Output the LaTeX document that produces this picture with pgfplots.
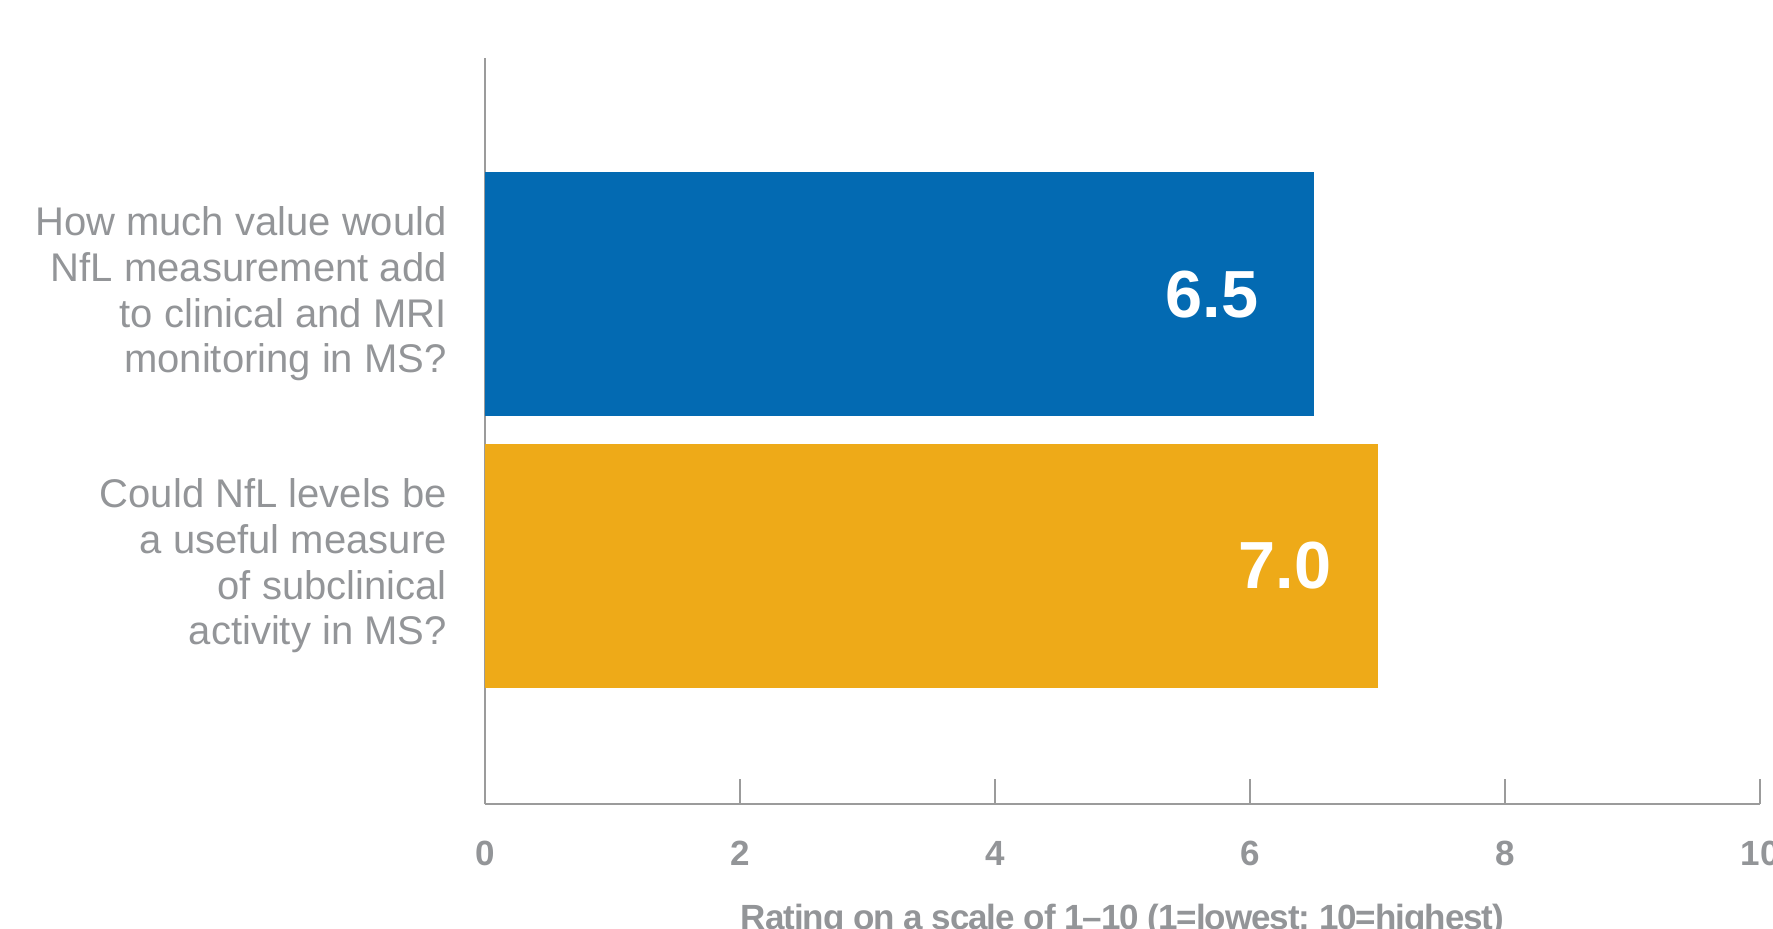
\documentclass[border=0pt]{standalone}
\usepackage{pgfplots}
\pgfplotsset{compat=1.18}
\usepackage{fontspec}
\setmainfont{Liberation Sans}
\definecolor{barblue}{RGB}{3,106,178}
\definecolor{barorange}{RGB}{238,170,24}
\definecolor{txtgray}{RGB}{147,149,152}
\definecolor{axgray}{RGB}{155,155,155}
\begin{document}
\begin{tikzpicture}
\begin{axis}[
  at={(0,0)}, anchor=south west,
  scale only axis,
  width=382.5pt, height=223.8pt,
  xmin=0, xmax=10, ymin=-0.875, ymax=1.868,
  axis x line=bottom, axis y line=left,
  axis line style={draw=axgray, line width=0.6pt, -},
  xtick={0,2,4,6,8,10},
  ytick={0,1},
  yticklabels={{Could NfL levels be\\a useful measure\\of subclinical\\activity in MS?}, {How much value would\\NfL measurement add\\to clinical and MRI\\monitoring in MS?}},
  /pgf/number format/assume math mode=true,
  tick align=inside,
  major tick length=7.5pt,
  xtick style={draw=axgray, line width=0.6pt},
  ytick style={draw=none},
  xticklabel style={font=\fontsize{10.5}{12}\selectfont\bfseries, text=txtgray, anchor=north, inner sep=0pt, yshift=-11pt},
  yticklabel style={font=\fontsize{12}{13.7}\selectfont, text=txtgray, align=right, anchor=east, inner sep=0pt, xshift=-11.3pt},
  xlabel={Rating on a scale of 1–10 (1=lowest; 10=highest)},
  xlabel style={at={(axis description cs:0.5,0)}, anchor=north, inner sep=0pt, yshift=-29.7pt, font=\fontsize{10.5}{12}\selectfont\bfseries\addfontfeature{LetterSpace=-3}, text=txtgray},
  point meta=explicit symbolic,
]
\addplot[xbar, bar shift=0pt, bar width=0.897, fill=barblue, draw=none,
  nodes near coords,
  nodes near coords style={anchor=east, inner sep=0pt, xshift=-16.5pt, text=white, font=\fontsize{20}{24}\selectfont\bfseries}]
  coordinates {(6.5,1) [6.5]};
\addplot[xbar, bar shift=0pt, bar width=0.897, fill=barorange, draw=none,
  nodes near coords,
  nodes near coords style={anchor=east, inner sep=0pt, xshift=-13.7pt, text=white, font=\fontsize{20}{24}\selectfont\bfseries}]
  coordinates {(7.0,0) [7.0]};
\end{axis}
\pgfresetboundingbox
\useasboundingbox (-145.5pt,-37.2pt) rectangle (386.4pt,241.2pt);
\end{tikzpicture}
\end{document}
